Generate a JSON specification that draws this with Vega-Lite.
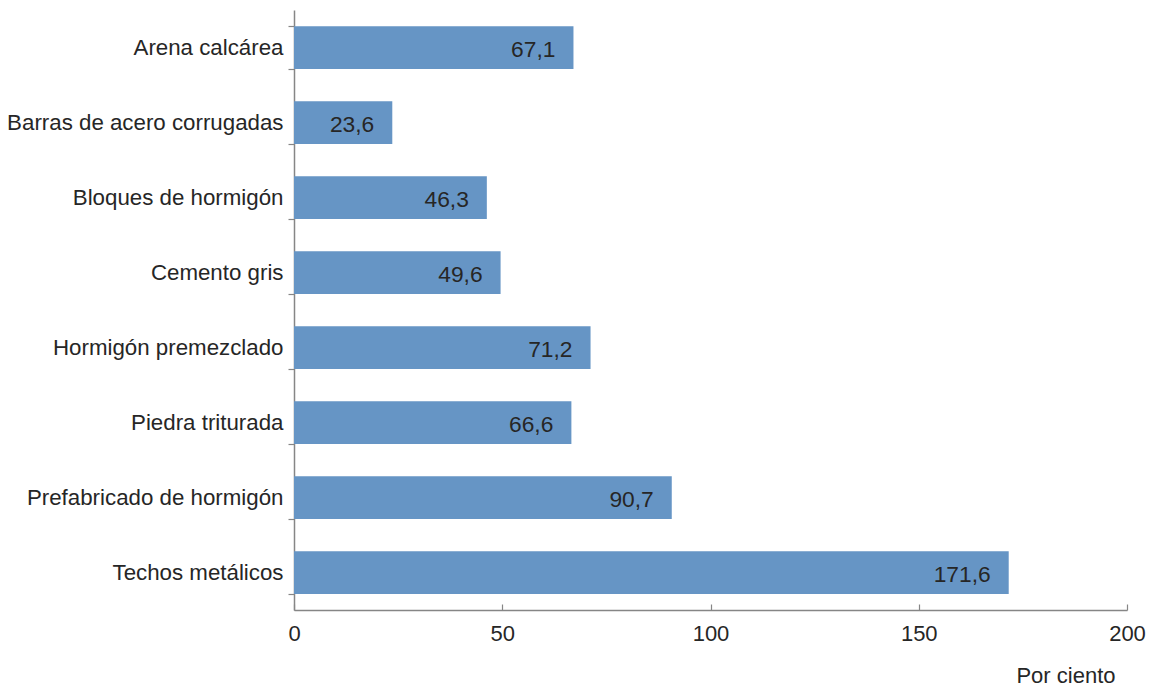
{
  "$schema": "https://vega.github.io/schema/vega-lite/v6.json",
  "width": 833,
  "height": 600,
  "autosize": {"type": "none"},
  "padding": {"left": 294, "top": 10, "right": 31, "bottom": 78},
  "background": "white",
  "config": {
    "view": {"stroke": null},
    "font": "Liberation Sans",
    "axis": {"grid": false, "domainColor": "#868686", "tickColor": "#868686", "labelColor": "#262626", "titleColor": "#262626", "labelFont": "Liberation Sans", "titleFont": "Liberation Sans", "domainWidth": 1.5, "tickWidth": 1.2}
  },
  "data": {
    "values": [
      {"material": "Arena calcárea", "valor": 67.1, "etiqueta": "67,1"},
      {"material": "Barras de acero corrugadas", "valor": 23.6, "etiqueta": "23,6"},
      {"material": "Bloques de hormigón", "valor": 46.3, "etiqueta": "46,3"},
      {"material": "Cemento gris", "valor": 49.6, "etiqueta": "49,6"},
      {"material": "Hormigón premezclado", "valor": 71.2, "etiqueta": "71,2"},
      {"material": "Piedra triturada", "valor": 66.6, "etiqueta": "66,6"},
      {"material": "Prefabricado de hormigón", "valor": 90.7, "etiqueta": "90,7"},
      {"material": "Techos metálicos", "valor": 171.6, "etiqueta": "171,6"}
    ]
  },
  "encoding": {
    "y": {
      "field": "material", "type": "nominal", "sort": null,
      "scale": {"paddingInner": 0.43, "paddingOuter": 0.215},
      "axis": {"title": null, "labelFontSize": 22.3, "tickSize": 6, "labelPadding": 5, "tickBand": "extent", "labelLimit": 400}
    },
    "x": {
      "field": "valor", "type": "quantitative",
      "scale": {"domain": [0, 200], "nice": false},
      "axis": {"values": [0, 50, 100, 150, 200], "title": "Por ciento", "titleFontSize": 22, "titleFontWeight": "normal", "titleAnchor": null, "titleAlign": "right", "titleBaseline": "alphabetic", "titleX": 821, "titleY": 72, "labelFontSize": 22, "tickSize": -6, "labelPadding": 19, "labelFlush": false}
    }
  },
  "layer": [
    {"mark": {"type": "bar", "color": "#6695C5"}},
    {"mark": {"type": "text", "align": "right", "baseline": "middle", "dx": -18, "dy": 2, "fontSize": 22.8, "color": "#262626"},
     "encoding": {"text": {"field": "etiqueta"}}}
  ]
}
